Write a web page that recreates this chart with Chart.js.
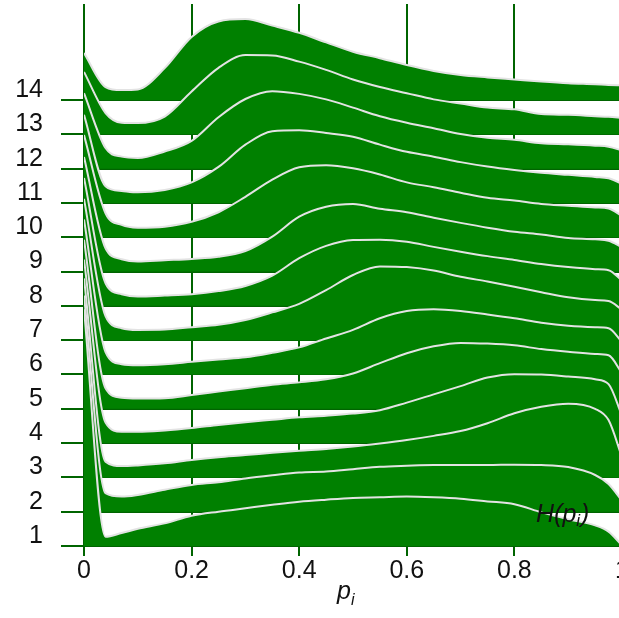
<!DOCTYPE html>
<html>
<head>
<meta charset="utf-8">
<script src="https://cdn.jsdelivr.net/npm/chart.js@4/dist/chart.umd.min.js"></script>
<style>
  html, body { margin: 0; padding: 0; background: #fff; overflow: hidden; }
  #wrap { width: 640px; height: 618px; }
</style>
</head>
<body>
<div id="wrap"><canvas id="ridges" width="640" height="618"></canvas></div>
<script>
// p_i sample points shared by every ridge
const pValues = [0, 0.04, 0.07, 0.1, 0.15, 0.2, 0.25, 0.3, 0.35, 0.4, 0.45, 0.5,
                 0.55, 0.6, 0.65, 0.7, 0.75, 0.8, 0.85, 0.9, 0.95, 0.975, 1];

const ridgeLabels = ['1', '2', '3', '4', '5', '6', '7', '8', '9', '10', '11', '12', '13', '14'];
const xTickValues = [0, 0.2, 0.4, 0.6, 0.8, 1];
const xTickLabels = ['0', '0.2', '0.4', '0.6', '0.8', '1'];

// H(p_i) heights above each ridge baseline
const ridge1  = [6.9, 0.27, 0.38, 0.5, 0.66, 0.88, 1.0, 1.1, 1.2, 1.29, 1.35, 1.4, 1.42, 1.44, 1.42, 1.38, 1.3, 1.22, 0.98, 0.78, 0.6, 0.42, 0.02];
const ridge2  = [6.3, 0.54, 0.44, 0.49, 0.64, 0.78, 0.86, 0.97, 1.06, 1.14, 1.17, 1.24, 1.31, 1.34, 1.36, 1.36, 1.36, 1.37, 1.36, 1.3, 1.07, 0.81, 0.32];
const ridge3  = [5.8, 0.46, 0.33, 0.35, 0.41, 0.51, 0.59, 0.65, 0.72, 0.78, 0.83, 0.9, 0.99, 1.09, 1.21, 1.35, 1.58, 1.87, 2.06, 2.15, 2.0, 1.67, 0.59];
const ridge4  = [5.35, 0.6, 0.33, 0.33, 0.37, 0.44, 0.53, 0.61, 0.68, 0.75, 0.8, 0.86, 0.96, 1.18, 1.42, 1.66, 1.91, 2.01, 2.0, 1.94, 1.86, 1.72, 0.8];
const ridge5  = [4.93, 0.6, 0.32, 0.3, 0.31, 0.4, 0.5, 0.6, 0.7, 0.77, 0.86, 1.03, 1.33, 1.62, 1.82, 1.92, 1.9, 1.85, 1.74, 1.66, 1.6, 1.56, 1.04];
const ridge6  = [4.52, 0.65, 0.3, 0.27, 0.3, 0.37, 0.44, 0.5, 0.63, 0.79, 1.05, 1.3, 1.64, 1.85, 1.9, 1.85, 1.75, 1.64, 1.51, 1.42, 1.38, 1.35, 0.95];
const ridge7  = [4.12, 0.7, 0.35, 0.3, 0.31, 0.38, 0.45, 0.59, 0.81, 1.06, 1.46, 1.9, 2.15, 2.13, 2.03, 1.85, 1.71, 1.56, 1.4, 1.25, 1.17, 1.14, 0.89];
const ridge8  = [3.73, 0.66, 0.34, 0.27, 0.3, 0.34, 0.43, 0.58, 0.88, 1.39, 1.75, 1.92, 1.93, 1.87, 1.72, 1.58, 1.45, 1.34, 1.22, 1.13, 1.07, 1.04, 0.74];
const ridge9  = [3.34, 0.68, 0.36, 0.29, 0.33, 0.37, 0.43, 0.6, 1.02, 1.6, 1.89, 1.97, 1.83, 1.73, 1.57, 1.42, 1.28, 1.16, 1.08, 0.98, 0.94, 0.9, 0.71];
const ridge10 = [2.98, 0.7, 0.36, 0.28, 0.31, 0.45, 0.73, 1.18, 1.68, 2.04, 2.1, 2.01, 1.83, 1.6, 1.46, 1.3, 1.15, 1.07, 0.97, 0.92, 0.87, 0.84, 0.62];
const ridge11 = [2.57, 0.49, 0.35, 0.31, 0.38, 0.6, 1.05, 1.7, 2.09, 2.12, 2.04, 1.93, 1.7, 1.49, 1.35, 1.19, 1.06, 0.96, 0.88, 0.82, 0.76, 0.72, 0.56];
const ridge12 = [2.2, 0.6, 0.35, 0.31, 0.5, 0.81, 1.5, 2.03, 2.26, 2.18, 2.02, 1.78, 1.53, 1.34, 1.18, 1.01, 0.9, 0.84, 0.74, 0.71, 0.67, 0.64, 0.53];
const ridge13 = [1.82, 0.62, 0.34, 0.33, 0.52, 1.25, 1.94, 2.31, 2.3, 2.12, 1.88, 1.6, 1.38, 1.2, 1.02, 0.9, 0.78, 0.73, 0.59, 0.57, 0.53, 0.51, 0.48];
const ridge14 = [1.37, 0.38, 0.29, 0.31, 0.93, 1.84, 2.29, 2.36, 2.17, 1.96, 1.68, 1.41, 1.22, 1.02, 0.85, 0.73, 0.66, 0.6, 0.54, 0.49, 0.46, 0.44, 0.43];

const ridges = [ridge1, ridge2, ridge3, ridge4, ridge5, ridge6, ridge7,
                ridge8, ridge9, ridge10, ridge11, ridge12, ridge13, ridge14];

const GREEN = '#008000';
const GRID = '#006400';
const TEXT = '#111';
const FAMILY = '"Liberation Sans", Arial, sans-serif';

// index 0 is drawn last, so the front ridge (1) ends up on top
const datasets = ridges.map((h, i) => {
    const base = i + 1;
    return {
        label: ridgeLabels[i],
        data: pValues.map((p, j) => ({ x: p, y: base + h[j] })),
        fill: { value: base },
        backgroundColor: GREEN,
        borderColor: '#e3e3e3',
        borderWidth: 2,
        pointRadius: 0,
        cubicInterpolationMode: 'monotone'
    };
});

// italic p_i under the axis and H(p_i) in the corner
const mathLabels = {
    id: 'mathLabels',
    afterDraw(chart) {
        const ctx = chart.ctx;
        ctx.save();
        ctx.fillStyle = TEXT;
        ctx.textBaseline = 'alphabetic';
        ctx.textAlign = 'left';

        const sub = (x, y, main, subTxt, size, subSize, drop) => {
            ctx.font = `italic ${size}px ${FAMILY}`;
            ctx.fillText(main, x, y);
            x += ctx.measureText(main).width;
            ctx.font = `italic ${subSize}px ${FAMILY}`;
            ctx.fillText(subTxt, x, y + drop);
            return x + ctx.measureText(subTxt).width;
        };

        sub(337, 599, 'p', 'i', 25, 16, 6);

        let x = sub(536, 522, 'H(p', 'i', 25, 17, 4);
        ctx.font = `italic 25px ${FAMILY}`;
        ctx.fillText(')', x + 1, 522);
        ctx.restore();
    }
};

new Chart(document.getElementById('ridges'), {
    type: 'line',
    data: { datasets: datasets },
    options: {
        responsive: false,
        animation: false,
        devicePixelRatio: 1,
        layout: { padding: { top: 4, right: 18, left: 0, bottom: 0 } },
        plugins: {
            legend: { display: false },
            tooltip: { enabled: false }
        },
        scales: {
            x: {
                type: 'linear',
                min: 0,
                max: 1,
                afterBuildTicks: s => { s.ticks = xTickValues.map(v => ({ value: v })); },
                afterFit: s => { s.height = 72; s.paddingLeft = 0; s.paddingRight = 0; },
                grid: { color: GRID, lineWidth: 2, tickLength: 10 },
                border: { display: false },
                ticks: {
                    callback: (v, i) => xTickLabels[i],
                    font: { family: FAMILY, size: 25 },
                    color: TEXT,
                    padding: 0,
                    maxRotation: 0,
                    autoSkip: false
                }
            },
            y: {
                type: 'linear',
                min: 1,
                max: 16.8,
                afterBuildTicks: s => { s.ticks = ridgeLabels.map((l, i) => ({ value: i + 1 })); },
                afterFit: s => { s.width = 84; s.paddingTop = 0; s.paddingBottom = 0; },
                grid: { color: GRID, lineWidth: 2, tickLength: 23 },
                border: { display: false },
                ticks: {
                    callback: (v, i) => ridgeLabels[i],
                    font: { family: FAMILY, size: 25 },
                    color: TEXT,
                    padding: 18,
                    labelOffset: -10,
                    autoSkip: false
                }
            }
        }
    },
    plugins: [mathLabels]
});
</script>
</body>
</html>
